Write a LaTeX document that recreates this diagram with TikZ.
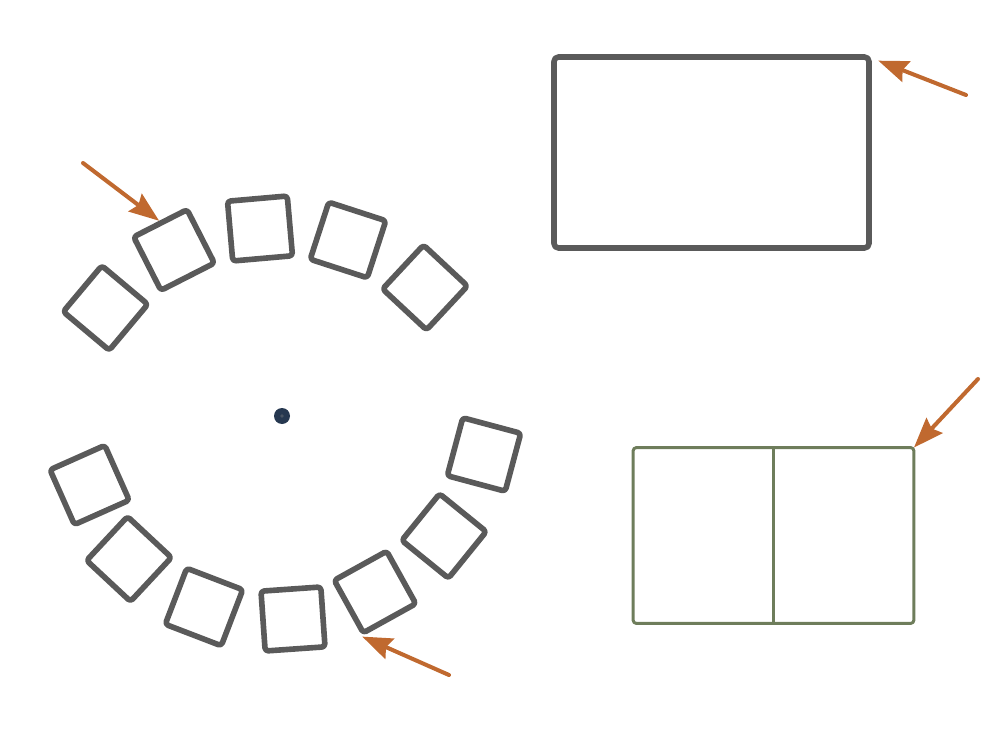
\documentclass[tikz,border=0pt]{standalone}
\usepackage{xcolor}
\usepackage{tikz}
\usetikzlibrary{arrows.meta}

\definecolor{seatgray}{HTML}{5A5A5A}
\definecolor{ptrorange}{HTML}{C0692F}
\definecolor{tablegreen}{HTML}{6E7D5B}
\definecolor{hubblue}{HTML}{263850}

\begin{document}
\begin{tikzpicture}[x=0.02cm, y=-0.02cm, line cap=round, line join=round,
		seat/.style={draw=seatgray, line width=3.2pt, rounded corners=1.8pt, minimum size=1.2cm, inner sep=0pt},
		ptr/.style={-{Stealth[length=0.6cm, width=0.44cm, inset=0.08cm]}, color=ptrorange, line width=2.3pt}]
		\useasboundingbox (0,0) rectangle (998,737);
		
		% round table: centre and seats
		\node[circle, fill=hubblue, minimum size=0.32cm, inner sep=0pt] (hub) at (282,416) {};
		\fill[hubblue!60!gray] (hub.center) circle (1pt);
		\foreach \x/\y/\r [count=\i] in {105.5/308/50, 174/250/27, 260/228.5/5, 348/240/-18, 425/287.5/-43,
				89.6/485/24, 129/559/47, 204/607/-21, 293/619/4, 375/592/29, 444/536/51, 484/454.5/-15}
			\node[seat, rotate=\r] (s\i) at (\x,\y) {};
		
		% long table
		\node[draw=seatgray, line width=3.2pt, rounded corners=2.5pt, outer sep=0pt,
			minimum width=6.3cm, minimum height=3.82cm] (room) at (711.5,152.5) {};
		
		% split box
		\node[draw=tablegreen, line width=1.7pt, rounded corners=2pt, outer sep=0pt,
			minimum width=5.62cm, minimum height=3.52cm] (grp) at (773.5,535.5) {};
		\draw[tablegreen, line width=1.7pt, line cap=butt] (grp.north) -- (grp.south);
		
		% pointers
		\coordinate (a1) at (83,163);
		\coordinate (a2) at (966,95);
		\coordinate (a3) at (978,379);
		\coordinate (a4) at (449,675);
		\draw[ptr] (a1) -- (s2.north);
		\draw[ptr, shorten >=0.2cm] (a2) -- (room.north east);
		\draw[ptr] (a3) -- (grp.north east);
		\draw[ptr] (a4) -- (s10.south west);
	\end{tikzpicture}
\end{document}
